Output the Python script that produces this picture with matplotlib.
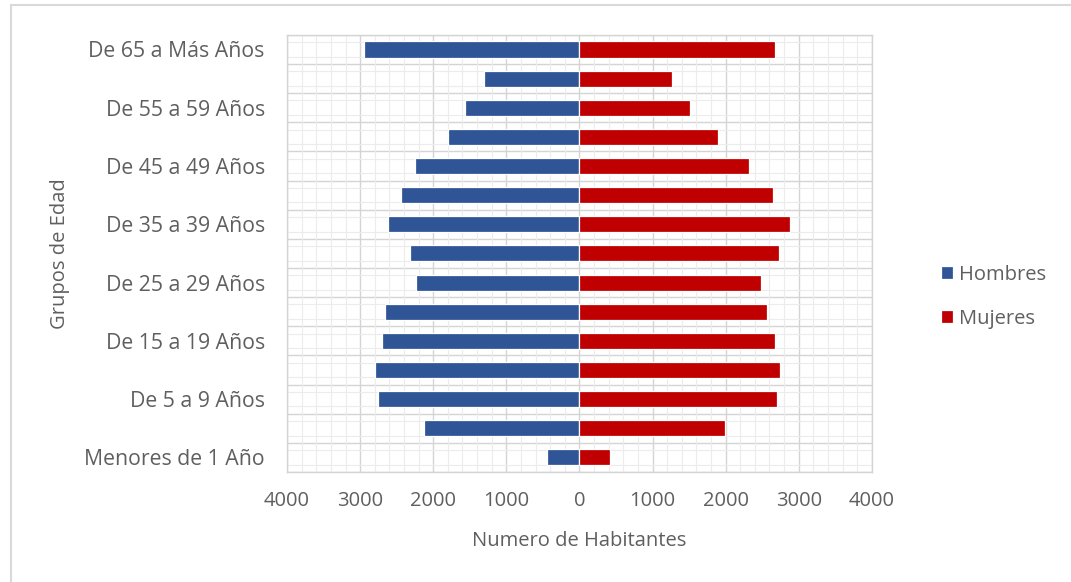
import numpy as np
import matplotlib.pyplot as plt
from matplotlib.patches import Rectangle
from matplotlib.ticker import MultipleLocator, FixedLocator, FuncFormatter

# age groups, from youngest (bottom) to oldest (top)
grupos = ['Menores de 1 Año', 'De 1 a 4 Años', 'De 5 a 9 Años', 'De 10 a 14 Años',
          'De 15 a 19 Años', 'De 20 a 24 Años', 'De 25 a 29 Años', 'De 30 a 34 Años',
          'De 35 a 39 Años', 'De 40 a 44 Años', 'De 45 a 49 Años', 'De 50 a 54 Años',
          'De 55 a 59 Años', 'De 60 a 64 Años', 'De 65 a Más Años']

hombres = [445, 2130, 2760, 2790, 2700, 2665, 2230, 2320,
           2620, 2435, 2255, 1800, 1560, 1300, 2950]
mujeres = [415, 1995, 2705, 2740, 2675, 2570, 2480, 2730,
           2880, 2650, 2315, 1900, 1515, 1260, 2675]

azul = '#2F5597'
rojo = '#C00000'
gris_txt = '#5f5f5f'
fs = 14.5

plt.rcParams['font.family'] = ['Open Sans', 'DejaVu Sans']

fig = plt.figure(figsize=(10.71, 5.82), dpi=100)
ax = fig.add_axes([0.268, 0.189, 0.546, 0.751])

y = np.arange(len(grupos))
h = 0.55
ax.barh(y, -np.array(hombres), height=h, color=azul, edgecolor='white', linewidth=0.9,
        label='Hombres', zorder=3)
ax.barh(y, mujeres, height=h, color=rojo, edgecolor='white', linewidth=0.9,
        label='Mujeres', zorder=3)

ax.set_xlim(-4000, 4000)
ax.set_ylim(-0.5, len(grupos) - 0.5)

# ticks every 1000, shown without sign on both sides
ax.xaxis.set_major_locator(MultipleLocator(1000))
ax.xaxis.set_minor_locator(MultipleLocator(200))
ax.xaxis.set_major_formatter(FuncFormatter(lambda v, p: f'{abs(int(v))}'))

# only every other age group gets a label
ax.set_yticks(y[::2])
ax.set_yticklabels(grupos[::2])
ax.yaxis.set_minor_locator(FixedLocator(np.concatenate([y - 0.25, y + 0.25])))

ax.grid(which='major', axis='x', color='#d4d4d4', linewidth=1.0, zorder=0)
ax.grid(which='minor', axis='x', color='#ececec', linewidth=0.8, zorder=0)
ax.grid(which='minor', axis='y', color='#ececec', linewidth=0.8, zorder=0)
for b in np.arange(-0.5, len(grupos), 1.0):
    ax.axhline(b, color='#d4d4d4', linewidth=1.0, zorder=1)

for s in ax.spines.values():
    s.set_color('#d4d4d4')
    s.set_linewidth(1.0)

ax.tick_params(which='both', length=0)
ax.tick_params(axis='x', labelsize=fs, labelcolor=gris_txt, pad=14)
ax.tick_params(axis='y', labelsize=15.3, labelcolor=gris_txt, pad=16)

ax.set_xlabel('Numero de Habitantes', fontsize=fs, color=gris_txt, labelpad=14)
ax.set_ylabel('Grupos de Edad', fontsize=fs, color=gris_txt, labelpad=10)

leg = fig.legend(loc='center left', bbox_to_anchor=(0.862, 0.49), frameon=False,
                 fontsize=fs, labelcolor=gris_txt, handlelength=0.6, handleheight=0.6,
                 handletextpad=0.3, labelspacing=1.2)

# light frame around the whole chart
fig.patches.append(Rectangle((11 / 1071, -0.05), 1.2, 1.05 - 5 / 582, transform=fig.transFigure,
                             fill=False, edgecolor='#d9d9d9', linewidth=1.5))

fig.savefig('out.png', dpi=100)
